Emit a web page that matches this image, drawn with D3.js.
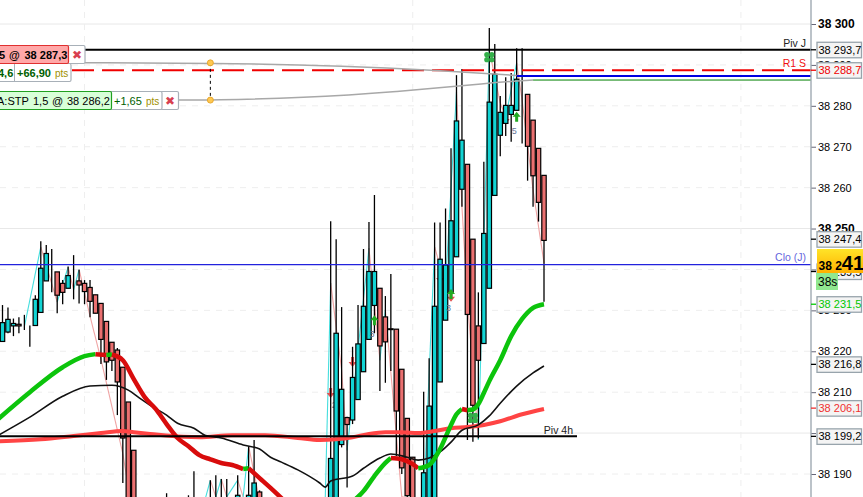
<!DOCTYPE html>
<html>
<head>
<meta charset="utf-8">
<script src="https://cdn.jsdelivr.net/npm/d3@7"></script>
<style>
html,body{margin:0;padding:0;background:#fff;overflow:hidden}
svg{display:block;font-family:"Liberation Sans",Arial,sans-serif}
</style>
</head>
<body>
<div id="chart"></div>
<script>
// prices are stored above this base
const base = 38000;

// candles (those under the chart bottom are estimates)
const opens = [222.4,224.7,226.2,226.6,226.3,226.3,226.3,229.5,237.2,239.4,239.4,236.6,235.4,237.4,237.2,236.6,235.6,233.8,231.7,227.3,222.2,220.3,216.1,207.6,195.8,176,170,165,164,166,172,170,166,172,170,178,176,172,178,176,180,177,179,176,180,178,178,185.6,176,170,166,162,168,164,160,166,172,168,174,178,175,180,197.2,203.8,203.2,208.2,215,222.9,231.2,235.4,228.4,225.5,225.4,215.6,203.6,194.1,180,178,180,180,212.5,227.6,234.4,243.1,259.6,265.7,247.4,226.2,221.9,235.4,258.1,272.8,275.7,277.9,278.9,282.7,282.8,276.5,269.6,263];
const highs = [231.3,230.7,228,228.3,228.9,226.3,233.7,246.9,246,245,239.4,237.4,240.7,243.5,239.9,237.4,237.4,233.8,231.7,227.3,222.2,220.8,216.1,207.6,195.8,180,178,172,170,176,185.3,178,176,180,184.8,190.7,182,180,188.5,189.7,188.8,188.8,183,189.7,183,196.8,198.3,186,182,178,175,172,178,174,170,176,180,178,182,183,251.8,247.4,230.8,204,221.1,231.3,245,251.6,258.2,235.4,233.5,238.9,225.4,215.6,203.6,194.1,182,210.1,218.3,251.5,251.5,254.9,269.6,287.5,289,265.7,247.4,234.4,266.3,299,295.1,282.4,287,288,294.1,294.1,282.8,276.5,269.6,263];
const lows = [222.4,224.4,223.7,224.4,225.2,221.1,226.3,229.5,237.2,234.4,229.3,231.5,235.4,232.7,231.7,231.5,228.3,229.3,216.9,213,215.2,204.4,187.8,165,168,160,158,155,156,160,165,162,160,166,164,170,168,166,172,172,174,172,174,174,176,176,176,172,168,162,158,155,160,156,152,160,164,162,168,172,172,178,196.5,186.7,202.2,208.2,215,222.9,224.4,210.3,212.3,215.2,194.4,190,183,175,172,176,178,178,212.5,227.6,234.4,243.1,255.3,198.3,197.9,198.7,221.9,235.4,258.1,267.7,272.6,271.2,278.9,270.8,261.7,255.3,251.7,232.1];
const closes = [227,227.8,226.8,226.2,226.3,226.3,232.7,240.3,243.9,239.4,233.7,234.4,238.5,237.4,236.2,234.6,232.2,229.3,222.9,217.4,217.8,212.5,198.8,170,172,165,162,160,167,172,170,166,172,170,178,176,172,178,176,180,177,179,176,184.8,182,184.8,187.8,176,170,166,162,168,164,160,166,172,168,174,178,180,193.8,224.4,210.7,202.1,213.6,221.8,231,239.5,239.5,221.3,222.3,225.3,205.4,191.5,184.7,178,176,190.3,206.6,231,242.5,241.1,251.9,276.3,271.6,229,206.8,217.8,248.8,280.9,287.7,278.4,280.1,280.1,286.5,282.7,270.1,262.9,256.4,247.1];

// thin zigzag behind the candles
const zigIdx = [4,7,10,12,13,14,16,18,22,24,36,38,39,40,41,43,44,45,47,59,60,62,63,67,69,70,73,77,79,81,83,84,85,87,89,91,92,94,95,97,99];
const zigVal = [226,245.5,232,240.6,235,240,228.6,218,195,178.7,178.7,188.5,184.4,188.8,184.4,188.5,184.4,196.8,183.6,183.6,236.7,215.4,195.8,245.2,217.8,230.1,184.4,183.6,245.5,236.2,283.4,255.3,232.5,198.3,293.6,280.7,277.3,290.5,281.4,259.4,241.6];

// moving averages
const fastIdx = [-1,5,11,15,17,19,20,22,24,26,28,30,32,34,36,38,40,42,44,45,47,49,51,55,60,64,66,68,70,71,73,75,76,78,80,82,83,84,85,86,87,88,89,91,93,95,97,99];
const fastVal = [203.2,210,216.1,218.8,219.3,219.1,219.2,217.8,213.2,208.8,205.9,202.2,198.8,196.8,194.6,193.6,192.7,192.2,191.2,191.4,189,186.6,184.1,178.7,176.3,183.1,185.8,189.5,192.7,193.9,193.6,192.4,191.4,192.2,196.1,202,204.6,205.9,205.6,205.75,207.1,209.8,212.7,217.8,223.7,227.9,230.6,231.5];
const midIdx = [-1,5,11,16,20,23,25,27,30,32,35,37,40,44,47,49,51,54,58,59,60,64,66,69,71,74,76,78,80,82,84,87,89,91,94,97,99];
const midVal = [199.3,203.9,209,211.5,211.7,210.5,208.6,206.8,204.4,202.4,201.2,199.5,198.8,197.1,196.1,194.1,192.9,191,187.8,186.8,188.3,189.5,191.4,193.9,194.9,194.1,193.4,193.9,195.4,197.8,200.7,202,204.2,207.3,211.5,214.7,216.4];
const slowIdx = [-1,7,13,18,22,24,27,33,36,42,48,54,58,61,64,67,70,73,76,79,82,85,88,91,95,99];
const slowVal = [198,198.5,199.3,200,200.5,200.2,199.8,199.1,199,199.5,199.5,198.8,198.3,198.5,199,199.8,200.2,200.2,200,200.5,201.2,201.5,202,202.9,204.6,205.9];

// right axis
const tickVals = [190,200,210,220,230,240,250,260,270,280,290,300];
const boldTicks = [250,300];
const solidGrid = [200,250,300];
const gridIdx = [15,75,135];

// level tags on the axis
const tagVals = [293.7,288.7,247.4,239.5,231.5,216.8,206.1,199.2];
const tagCols = ["#000","#f00000","#000","#000","#00c800","#000","#f03030","#000"];
const currentPrice = 241;

// signal markers: index, price
const upIdx = [94,82,68], upVal = [277.3,234,227.6];
const upNum = ["5","3","3"];
const downIdx = [60,64,80,82,92], downVal = [209.8,217.4,237.9,233.3,276.8];
const downNum = ["2","","","",""];
const cloverIdx = [89,86], cloverVal = [291.9,203.7];

// order connector curves
const linkAIdx = [15,38,64,78,94], linkAVal = [290.5,290.5,289.7,288.8,287.4];
const linkBIdx = [32,38,55,72,89,97], linkBVal = [281.4,281.4,281.9,283.4,285.6,286.3];

const W = 863, H = 497, axisX = 811;
const p = v => base + v;

const x = d3.scaleLinear().domain([0, 99]).range([2.5, 544]);
const y = d3.scaleLinear().domain([p(190), p(300)]).range([474, 24]);

const svg = d3.select("#chart").append("svg").attr("width", W).attr("height", H);
svg.append("defs").append("clipPath").attr("id", "plot")
  .append("rect").attr("width", axisX).attr("height", H);
const g = svg.append("g").attr("clip-path", "url(#plot)");

// grid
g.selectAll(".gy").data(tickVals).enter().append("line")
  .attr("x1", 0).attr("x2", axisX)
  .attr("y1", d => y(p(d))).attr("y2", d => y(p(d)))
  .attr("stroke", d => solidGrid.includes(d) ? "#e8e8e8" : "#eeeeee")
  .attr("stroke-dasharray", d => solidGrid.includes(d) ? null : "6,6");
g.selectAll(".gx").data(gridIdx).enter().append("line")
  .attr("x1", d => x(d)).attr("x2", d => x(d)).attr("y1", 0).attr("y2", H)
  .attr("stroke", "#eeeeee").attr("stroke-dasharray", "6,6");

// zigzag
zigIdx.slice(1).forEach((d, i) => {
  const up = zigVal[i + 1] > zigVal[i];
  g.append("line")
    .attr("x1", x(zigIdx[i])).attr("y1", y(p(zigVal[i])))
    .attr("x2", x(d)).attr("y2", y(p(zigVal[i + 1])))
    .attr("stroke", up ? "#45dede" : "#f0a4a4").attr("stroke-width", 1.1);
});

// red signals sit under the candles
const down = g.selectAll(".down").data(downIdx).enter().append("g")
  .attr("transform", (d, i) => `translate(${x(d)},${y(p(downVal[i]))})`);
down.append("path").attr("d", "M0,5L4,0L1.5,0L1.5,-5L-1.5,-5L-1.5,0L-4,0Z").attr("fill", "#e05050");
down.append("text").attr("x", 1).attr("y", 15).attr("font-size", 9).attr("fill", "#667799").text((d, i) => downNum[i]);

// candles
const candles = d3.range(opens.length);
g.selectAll(".wick").data(candles).enter().append("line")
  .attr("x1", i => x(i)).attr("x2", i => x(i))
  .attr("y1", i => y(p(highs[i]))).attr("y2", i => y(p(lows[i])))
  .attr("stroke", "#000").attr("stroke-width", 1.3);
g.selectAll(".body").data(candles).enter().append("rect")
  .attr("x", i => x(i) - 2.2).attr("width", 4.4)
  .attr("y", i => y(p(Math.max(opens[i], closes[i]))))
  .attr("height", i => Math.abs(y(p(opens[i])) - y(p(closes[i]))))
  .attr("fill", i => closes[i] >= opens[i] ? "#12d4d4" : "#ea7070")
  .attr("stroke", "#000").attr("stroke-width", 1.2);

// green signals
const up = g.selectAll(".up").data(upIdx).enter().append("g")
  .attr("transform", (d, i) => `translate(${x(d)},${y(p(upVal[i]))})`);
up.append("path").attr("d", "M0,-5L4,0L1.5,0L1.5,5L-1.5,5L-1.5,0L-4,0Z").attr("fill", "#22aa22");
up.append("text").attr("x", -5).attr("y", 17).attr("font-size", 9).attr("fill", "#667799").text((d, i) => upNum[i]);
cloverIdx.forEach((d, i) => {
  [[-2.5,-2.5],[2.5,-2.5],[-2.5,2.5],[2.5,2.5]].forEach(o => {
    g.append("circle").attr("cx", x(d) + o[0]).attr("cy", y(p(cloverVal[i])) + o[1])
      .attr("r", 2.6).attr("fill", "#33b04a");
  });
});

// moving averages
const pts = (ix, vals) => ix.map((d, i) => [x(d), y(p(vals[i]))]);
const curve = d3.line().curve(d3.curveMonotoneX);
g.append("path").attr("d", curve(pts(slowIdx, slowVal))).attr("fill", "none")
  .attr("stroke", "#ff4444").attr("stroke-width", 4);
g.append("path").attr("d", curve(pts(midIdx, midVal))).attr("fill", "none")
  .attr("stroke", "#111").attr("stroke-width", 1.6);

// fast average changes colour with its slope
const fastPts = pts(fastIdx, fastVal);
let run = [fastPts[0]];
for (let i = 1; i < fastPts.length; i++) {
  run.push(fastPts[i]);
  const rising = fastVal[i] >= fastVal[i - 1];
  const nextRising = i + 1 < fastPts.length ? fastVal[i + 1] >= fastVal[i] : rising;
  if (rising !== nextRising || i === fastPts.length - 1) {
    g.append("path").attr("d", curve(run)).attr("fill", "none")
      .attr("stroke", rising ? "#0cc40c" : "#d80c0c").attr("stroke-width", 4.5);
    run = [fastPts[i]];
  }
}

// levels
const level = (v, x1, col, w, dash) => g.append("line")
  .attr("x1", x1).attr("x2", axisX).attr("y1", y(p(v))).attr("y2", y(p(v)))
  .attr("stroke", col).attr("stroke-width", w).attr("stroke-dasharray", dash || null);
level(293.7, 85, "#000", 2);
level(288.7, 72, "#f00000", 2.2, "22,8");
level(287.3, x(94), "#0000e0", 2);
level(286.3, x(97), "#008000", 1);
level(241.2, 0, "#2222dd", 1.2);
g.append("line").attr("x1", 0).attr("x2", 577)
  .attr("y1", y(p(199.2))).attr("y2", y(p(199.2)))
  .attr("stroke", "#000").attr("stroke-width", 2);

const label = (txt, xp, yp, col) => g.append("text").attr("x", xp).attr("y", yp)
  .attr("text-anchor", "end").attr("font-size", 10.5).attr("fill", col).text(txt);
label("Piv J", 806, 47, "#222");
label("R1 S", 806, 67, "#f01010");
label("Clo (J)", 806, 261, "#6666dd");
label("Piv 4h", 573, 434, "#222");

// order connectors
const straight = d3.line().curve(d3.curveBasis);
[[linkAIdx, linkAVal], [linkBIdx, linkBVal]].forEach(l => {
  g.append("path").attr("d", straight(pts(l[0], l[1]))).attr("fill", "none")
    .attr("stroke", "#a8a8a8").attr("stroke-width", 1.5);
});
g.append("line").attr("x1", x(38)).attr("x2", x(38))
  .attr("y1", y(p(290.5))).attr("y2", y(p(281.4)))
  .attr("stroke", "#000").attr("stroke-dasharray", "3,3");
[290.5, 281.4].forEach(v => g.append("circle").attr("cx", x(38)).attr("cy", y(p(v)))
  .attr("r", 3).attr("fill", "#ffc850").attr("stroke", "#e8a830"));

// order tags
const cell = (xp, yp, w, h, fill, stroke) => svg.append("rect")
  .attr("x", xp).attr("y", yp).attr("width", w).attr("height", h).attr("rx", 1.5)
  .attr("fill", fill).attr("stroke", stroke).attr("stroke-width", 1.2);
const text = (t, xp, yp, size, col, bold) => svg.append("text").attr("x", xp).attr("y", yp)
  .attr("font-size", size).attr("fill", col).attr("font-weight", bold ? "bold" : null).text(t);
const cross = (cx, cy) => svg.append("text").attr("x", cx).attr("y", cy + 4.5)
  .attr("text-anchor", "middle").attr("font-size", 12).attr("font-weight", "bold")
  .attr("font-family", "DejaVu Sans").attr("fill", "#d84050").text("\u2716");

cell(-5, 63.5, 76, 18, "#fff", "#a8b0b8");
svg.append("line").attr("x1", 14.5).attr("x2", 14.5).attr("y1", 64).attr("y2", 81).attr("stroke", "#a8b0b8");
text("4,6", -2, 77, 11, "#006000", true);
text("+66,90", 17, 77, 11, "#006000", true);
text("pts", 55, 77, 10, "#a09000");
cell(60, 45.5, 25, 18, "#fff", "#a8b0b8");
cross(77, 54.5);
cell(-5, 45.5, 73.5, 18, "#ffa8a8", "#e03030");
text("5", -1, 59, 11, "#000", true);
text("@", 9, 59, 11, "#000", true);
text("38 287,3", 24.5, 59, 11, "#000", true);

cell(150, 91.5, 28.5, 18, "#fff", "#a8b0b8");
cross(170, 100.5);
cell(105, 91.5, 57, 18, "#fff", "#a8b0b8");
text("+1,65", 114, 105, 11, "#006000");
text("pts", 146, 105, 10, "#a09000");
cell(-5, 91.5, 116.5, 18, "#d8ffd8", "#20a020");
text("A:STP", -3, 105, 11, "#000");
text("1,5", 33, 105, 11, "#000");
text("@", 52, 105, 11, "#000");
text("38 286,2", 67, 105, 11, "#000");

// axis
const fmt = d3.formatLocale({decimal: ",", thousands: " ", grouping: [3], currency: ["", ""]});
const axis = d3.axisRight(y)
  .tickValues(tickVals.map(p))
  .tickSize(5)
  .tickFormat(fmt.format(",d"));
const ax = svg.append("g").attr("transform", `translate(${axisX},0)`).call(axis);
ax.select(".domain").remove();
ax.selectAll("line").attr("stroke", "#667");
ax.selectAll("text").attr("x", 7).attr("font-size", 11)
  .attr("font-family", '"Liberation Sans",Arial,sans-serif').attr("fill", "#000")
  .attr("font-weight", d => boldTicks.includes(d - base) ? "bold" : null)
  .attr("font-size", d => boldTicks.includes(d - base) ? 12 : 11);
svg.append("line").attr("x1", axisX).attr("x2", axisX).attr("y1", 0).attr("y2", H)
  .attr("stroke", "#a0aab2").attr("stroke-width", 1.4);

// axis tags
const lab = fmt.format(",.1f");
const tags = svg.selectAll(".tag").data(tagVals).enter().append("g")
  .attr("transform", d => `translate(0,${y(p(d))})`);
tags.append("line").attr("x1", axisX).attr("x2", axisX + 5)
  .attr("stroke", (d, i) => tagCols[i]).attr("stroke-width", 1.3);
tags.append("rect").attr("x", 817).attr("y", -7.5).attr("width", 44.5).attr("height", 15.5)
  .attr("fill", "#f4f4f4").attr("stroke", "#98a4ac").attr("stroke-width", 1.3);
tags.append("text").attr("x", 818.5).attr("y", 4).attr("font-size", 11)
  .attr("fill", (d, i) => tagCols[i]).text(d => lab(p(d)));

// current price tag
const gold = svg.select("defs").append("linearGradient").attr("id", "gold")
  .attr("x1", 0).attr("x2", 0).attr("y1", 0).attr("y2", 1);
gold.append("stop").attr("offset", 0).attr("stop-color", "#ffe428");
gold.append("stop").attr("offset", 1).attr("stop-color", "#ffb000");
svg.append("rect").attr("x", 817).attr("y", 249).attr("width", 46).attr("height", 24)
  .attr("fill", "url(#gold)");
const priceText = fmt.format(",d")(p(currentPrice));
const last = svg.append("text").attr("x", 818.5).attr("y", 270).attr("font-weight", "bold").attr("fill", "#000");
last.append("tspan").attr("font-size", 12).text(priceText.slice(0, -2));
last.append("tspan").attr("font-size", 20).text(priceText.slice(-2));
svg.append("rect").attr("x", 816).attr("y", 273).attr("width", 22).attr("height", 17).attr("fill", "#90e890");
svg.append("text").attr("x", 818).attr("y", 286).attr("font-size", 12).attr("fill", "#000").text("38s");
</script>
</body>
</html>
